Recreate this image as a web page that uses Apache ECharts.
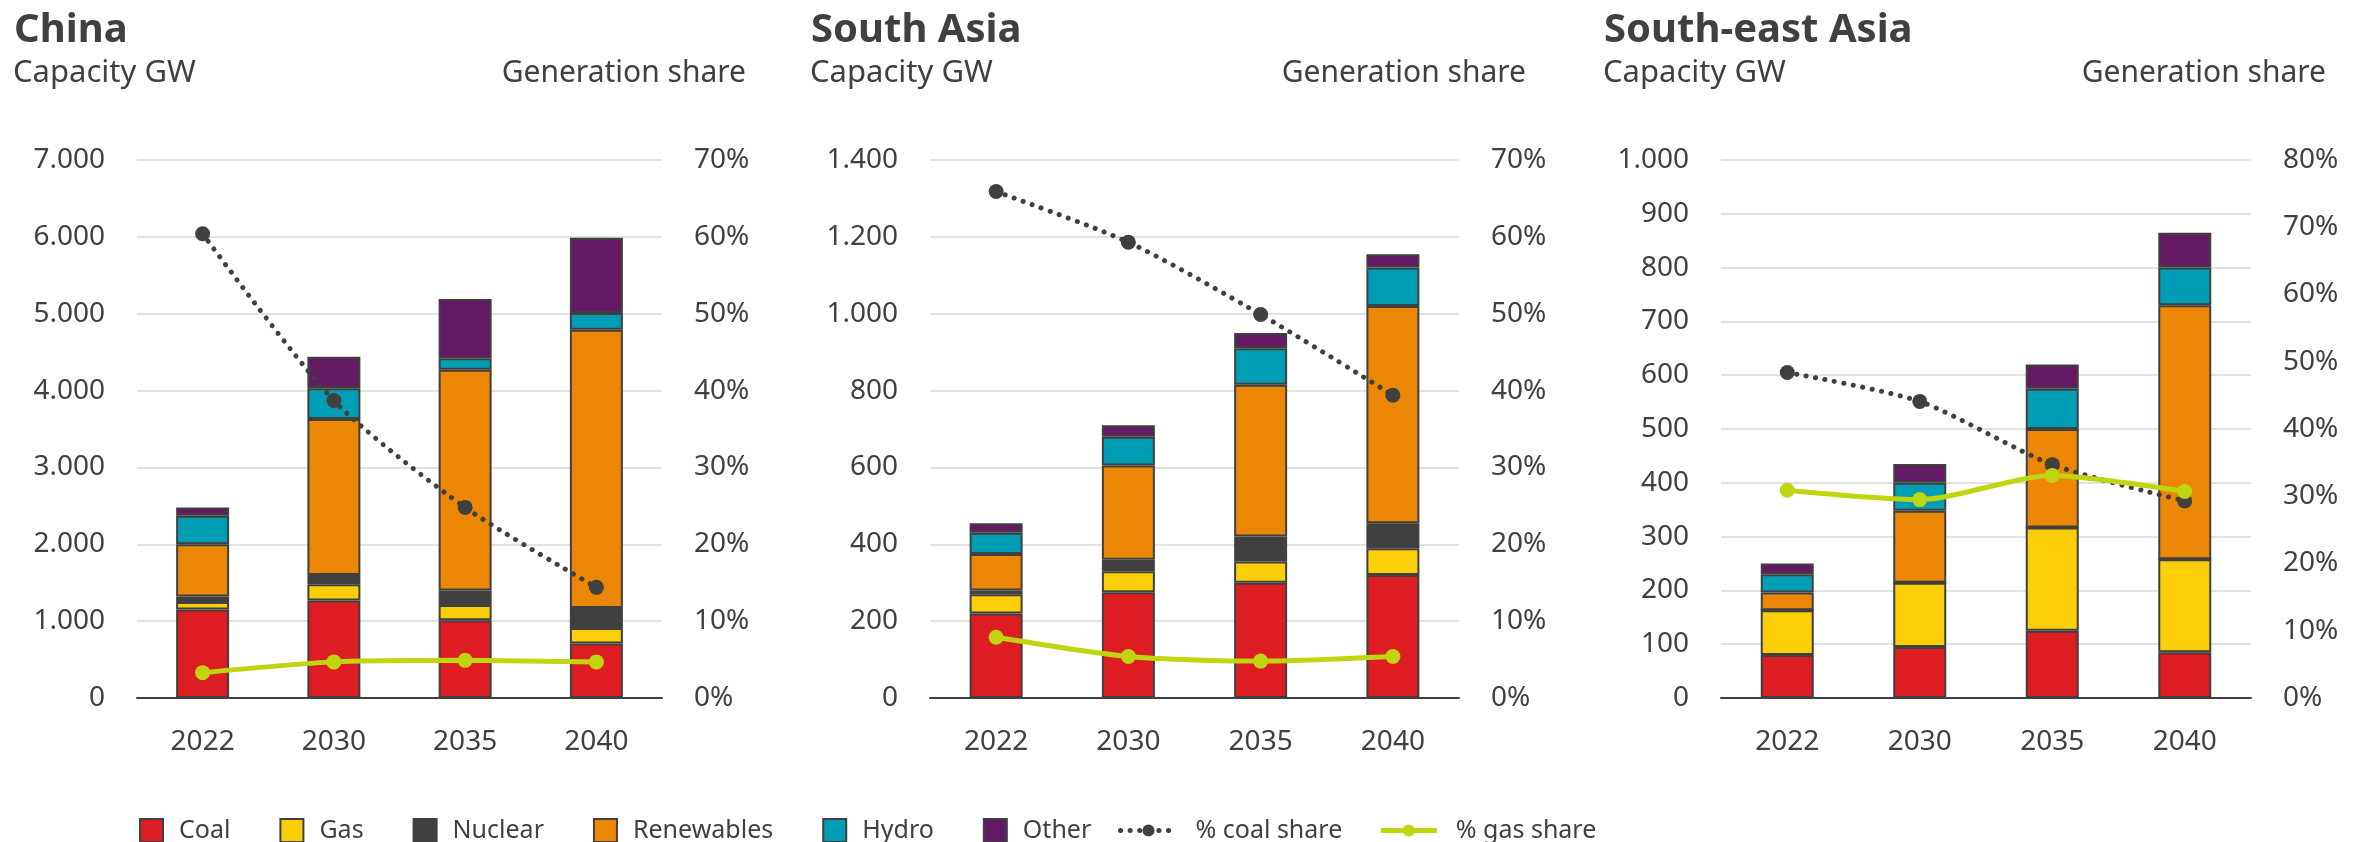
<!DOCTYPE html>
<html lang="en">
<head>
    <meta charset="utf-8">
    <title>Capacity and generation share</title>
    <script src="https://cdn.jsdelivr.net/npm/echarts@6/dist/echarts.min.js"></script>
    <style>
        html, body { margin: 0; padding: 0; background: #fff; }
        #main { width: 2371px; height: 842px; }
    </style>
</head>
<body>
<div id="main"></div>
<script>
    const years = ['2022', '2030', '2035', '2040'];

    // China, capacity GW (stacked) and generation share %
    const chinaCoal = [1150, 1270, 1010, 710];
    const chinaGas = [100, 210, 200, 200];
    const chinaNuclear = [70, 120, 190, 260];
    const chinaRenewables = [680, 2030, 2870, 3620];
    const chinaHydro = [370, 400, 150, 220];
    const chinaOther = [110, 410, 770, 980];
    const chinaCoalShare = [60.4, 38.7, 24.8, 14.4];
    const chinaGasShare = [3.3, 4.7, 4.9, 4.7];

    // South Asia
    const saCoal = [220, 275, 300, 320];
    const saGas = [50, 55, 55, 70];
    const saNuclear = [10, 30, 65, 65];
    const saRenewables = [95, 245, 395, 565];
    const saHydro = [55, 75, 95, 100];
    const saOther = [25, 30, 40, 35];
    const saCoalShare = [65.9, 59.3, 49.9, 39.4];
    const saGasShare = [7.9, 5.4, 4.8, 5.4];

    // South-east Asia
    const seaCoal = [80, 95, 125, 85];
    const seaGas = [83, 119, 192, 173];
    const seaNuclear = [0, 0, 0, 0];
    const seaRenewables = [33, 134, 183, 472];
    const seaHydro = [34, 52, 75, 70];
    const seaOther = [20, 35, 45, 65];
    const seaCoalShare = [48.4, 44.1, 34.7, 29.3];
    const seaGasShare = [30.9, 29.5, 33.1, 30.7];

    const barNames = ['Coal', 'Gas', 'Nuclear', 'Renewables', 'Hydro', 'Other'];
    const barColors = ['#dd1d21', '#fbce07', '#404040', '#eb8705', '#009eb4', '#641964'];
    const txt = '#404040';
    const font = 'Noto Sans';

    const regions = [
        { name: 'China', left: 137, width: 525, max: 7000, step: 1000, rmax: 70, titleX: 14, shareRight: 2371 - 746,
          bars: [chinaCoal, chinaGas, chinaNuclear, chinaRenewables, chinaHydro, chinaOther],
          coal: chinaCoalShare, gas: chinaGasShare },
        { name: 'South Asia', left: 930, width: 529, max: 1400, step: 200, rmax: 70, titleX: 811, shareRight: 2371 - 1526,
          bars: [saCoal, saGas, saNuclear, saRenewables, saHydro, saOther],
          coal: saCoalShare, gas: saGasShare },
        { name: 'South-east Asia', left: 1721, width: 530, max: 1000, step: 100, rmax: 80, titleX: 1604, shareRight: 2371 - 2326,
          bars: [seaCoal, seaGas, seaNuclear, seaRenewables, seaHydro, seaOther],
          coal: seaCoalShare, gas: seaGasShare }
    ];

    function thousands(v) {
        return String(v).replace(/\B(?=(\d{3})+(?!\d))/g, '.');
    }

    let grid = [], xAxis = [], yAxis = [], series = [], title = [];

    regions.forEach(function (r, i) {
        title.push({ text: r.name, left: r.titleX, top: 11, padding: 0,
            textStyle: { fontSize: 40, fontWeight: 'bold', color: txt, fontFamily: font } });
        title.push({ text: 'Capacity GW', left: r.titleX - 1, top: 58, padding: 0,
            textStyle: { fontSize: 31, fontWeight: 'normal', color: txt, fontFamily: font } });
        title.push({ text: 'Generation share', right: r.shareRight, top: 58, padding: 0,
            textStyle: { fontSize: 30, fontWeight: 'normal', color: txt, fontFamily: font } });

        grid.push({ left: r.left, width: r.width, top: 160, height: 538 });

        xAxis.push({
            type: 'category', gridIndex: i, data: years,
            axisLine: { lineStyle: { color: txt, width: 2 } },
            axisTick: { show: false },
            axisLabel: { fontSize: 28, color: txt, margin: 30, fontFamily: font }
        });

        yAxis.push({
            type: 'value', gridIndex: i, min: 0, max: r.max, interval: r.step,
            axisLine: { show: false }, axisTick: { show: false },
            splitLine: { lineStyle: { color: '#e2e2e2', width: 2 } },
            axisLabel: { fontSize: 28, color: txt, margin: 32, fontFamily: font, formatter: thousands }
        });
        yAxis.push({
            type: 'value', gridIndex: i, position: 'right', min: 0, max: r.rmax, interval: 10,
            axisLine: { show: false }, axisTick: { show: false }, splitLine: { show: false },
            axisLabel: { fontSize: 28, color: txt, margin: 32, fontFamily: font, formatter: '{value}%' }
        });

        r.bars.forEach(function (vals, k) {
            series.push({
                name: barNames[k], type: 'bar', stack: 'cap' + i,
                xAxisIndex: i, yAxisIndex: i * 2, barWidth: 53, z: 2,
                itemStyle: { color: barColors[k], borderColor: '#404040', borderWidth: 2 },
                data: vals
            });
        });

        series.push({
            name: '% coal share', type: 'line', xAxisIndex: i, yAxisIndex: i * 2 + 1,
            smooth: 0.25, z: 5, symbol: 'circle', symbolSize: 15,
            itemStyle: { color: '#404040' },
            lineStyle: { color: '#404040', width: 5, type: [0.1, 9.5], cap: 'round' },
            data: r.coal
        });
        series.push({
            name: '% gas share', type: 'line', xAxisIndex: i, yAxisIndex: i * 2 + 1,
            smooth: 0.25, z: 6, symbol: 'circle', symbolSize: 15,
            itemStyle: { color: '#bed50f' },
            lineStyle: { color: '#bed50f', width: 5 },
            data: r.gas
        });
    });

    let myChart = echarts.init(document.getElementById('main'));
    let option = {
        animation: false,
        textStyle: { fontFamily: font },
        title: title,
        legend: [{
            data: barNames, left: 134, top: 813, itemWidth: 23, itemHeight: 23, itemGap: 49,
            icon: 'rect',
            itemStyle: { borderColor: '#404040', borderWidth: 2 },
            textStyle: { fontSize: 25, color: txt, fontFamily: font, padding: [0, 0, 0, 11] }
        }, {
            data: ['% coal share', '% gas share'], left: 1113, top: 813, itemWidth: 56, itemHeight: 15, itemGap: 36,
            lineStyle: { width: 5 },
            textStyle: { fontSize: 25, color: txt, fontFamily: font, padding: [0, 0, 0, 14] }
        }],
        grid: grid,
        xAxis: xAxis,
        yAxis: yAxis,
        series: series
    };
    myChart.setOption(option);
</script>
</body>
</html>
